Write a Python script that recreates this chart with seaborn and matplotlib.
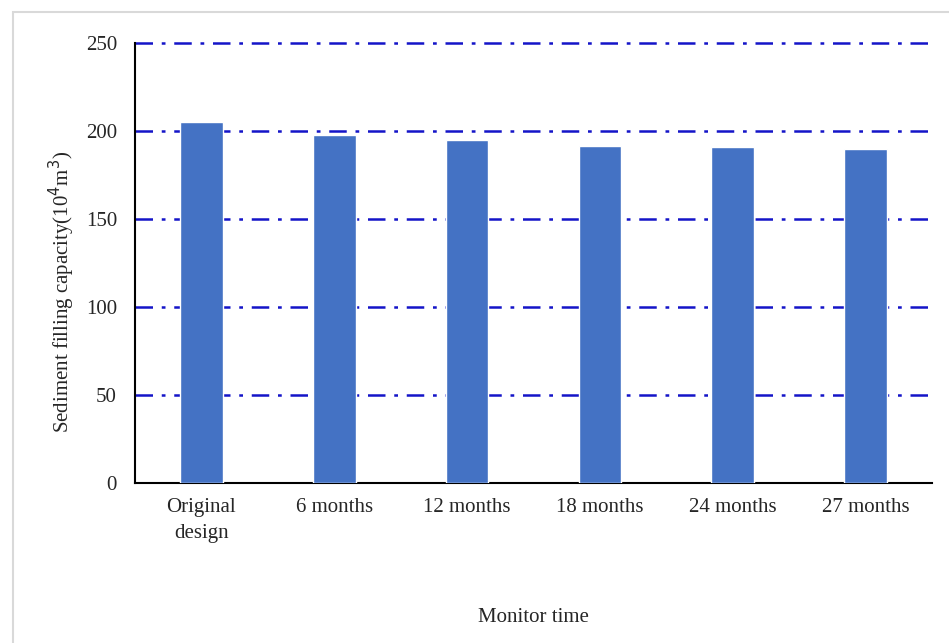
import matplotlib
matplotlib.use('Agg')
import matplotlib.pyplot as plt
import seaborn as sns
import pandas as pd
from matplotlib.patches import Rectangle

# datos
periods = ['Original\ndesign', '6 months', '12 months', '18 months', '24 months', '27 months']
capacity = [205.1, 197.6, 194.8, 191.4, 190.8, 189.8]
y_ticks = [0, 50, 100, 150, 200, 250]

df = pd.DataFrame({'period': periods, 'capacity': capacity})

sns.set_style('white')
plt.rcParams['font.family'] = ['Liberation Serif', 'DejaVu Serif']

fig = plt.figure(figsize=(9.49, 6.43), dpi=100)
# marco gris claro alrededor de la figura
fig.patches.append(Rectangle((13 / 949, -0.05), 1.1, 1 - 12 / 643 + 0.05,
                             transform=fig.transFigure, fill=False,
                             edgecolor='#d9d9d9', linewidth=1.5))

ax = fig.add_axes([135 / 949, 1 - 483 / 643, 797 / 949, 440 / 643])
sns.barplot(data=df, x='period', y='capacity', color='#4472C4',
            width=0.32, saturation=1, ax=ax, zorder=3)

ax.set_ylim(0, 250)
ax.set_yticks(y_ticks)
ax.set_xlim(-0.5, len(periods) - 0.5)
for t in y_ticks[1:]:
    ax.axhline(t, color='#1414c8', linestyle=(0, (7, 3.5, 1.5, 3.5)),
               linewidth=1.8, zorder=1, clip_on=False)

for side in ['top', 'right']:
    ax.spines[side].set_visible(False)
ax.spines['left'].set_color('black')
ax.spines['bottom'].set_color('black')
ax.spines['left'].set_linewidth(1.5)
ax.spines['bottom'].set_linewidth(1.5)
ax.spines['left'].set_zorder(4)

ax.tick_params(axis='both', length=0, labelsize=15)
ax.tick_params(axis='y', pad=13)
ax.tick_params(axis='x', pad=11)
for lbl in ax.get_xticklabels():
    lbl.set_linespacing(1.45)
ax.set_xlabel('Monitor time', fontsize=15, labelpad=47)
ax.set_ylabel('Sediment filling capacity(10$^4$m$^3$)', fontsize=15)
ax.yaxis.set_label_coords(-0.073, 0.435)

fig.savefig('out.png', dpi=100)
